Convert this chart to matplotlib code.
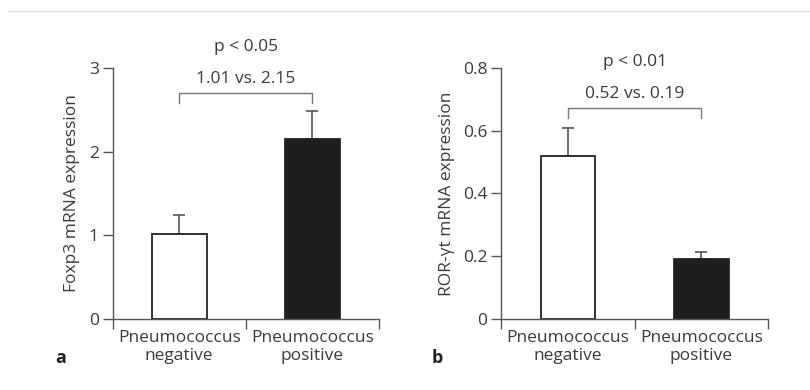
import matplotlib.pyplot as plt
import matplotlib.lines as mlines

plt.rcParams['font.family'] = ['Open Sans', 'DejaVu Sans']

categories = ["Pneumococcus\nnegative", "Pneumococcus\npositive"]
foxp3_mean = [1.01, 2.15]
foxp3_err = [0.23, 0.34]
ror_mean = [0.52, 0.19]
ror_err = [0.09, 0.025]
bar_colors = ["white", "#1e1e1e"]

text_col = "#3a3a3a"
line_col = "#555555"


def draw_panel(ax, means, errs, ymax, yticks, yticklabels, ylabel,
               bracket_y, leg_y, comp_y, p_y, comp_txt, p_txt, letter, letter_x):
    pos = [0.5, 1.5]
    ax.bar(pos, means, width=0.41, color=bar_colors, edgecolor="#222222",
           linewidth=1.3, zorder=2)
    ax.errorbar(pos, means, yerr=[[0, 0], errs], fmt="none", ecolor=line_col,
                elinewidth=1.2, capsize=4, capthick=1.2, zorder=1)
    ax.set_xlim(0, 2)
    ax.set_ylim(0, ymax)
    ax.set_xticks([0, 1, 2])
    ax.set_xticklabels([])
    ax.set_xticks(pos, minor=True)
    ax.set_xticklabels(categories, minor=True, fontsize=12.5, color=text_col,
                       linespacing=1.15)
    ax.tick_params(axis="x", which="minor", length=0, pad=8)
    ax.tick_params(axis="x", which="major", length=7, width=1, color=line_col)
    ax.set_yticks(yticks)
    ax.set_yticklabels(yticklabels, fontsize=12.5, color=text_col)
    ax.tick_params(axis="y", length=7, width=1, color=line_col, pad=3)
    ax.set_ylabel(ylabel, fontsize=12.5, color=text_col, labelpad=6)
    for s in ["top", "right"]:
        ax.spines[s].set_visible(False)
    for s in ["left", "bottom"]:
        ax.spines[s].set_color(line_col)
        ax.spines[s].set_linewidth(1)

    # significance bracket
    ax.plot([pos[0], pos[0], pos[1], pos[1]], [leg_y, bracket_y, bracket_y, leg_y],
            color="#777777", linewidth=1, clip_on=False)
    ax.text(1, comp_y, comp_txt, ha="center", va="center", fontsize=12.5,
            color=text_col, clip_on=False)
    ax.text(1, p_y, p_txt, ha="center", va="center", fontsize=12.5,
            color=text_col, clip_on=False)
    ax.text(letter_x, -0.157 * ymax, letter, fontsize=13,
            fontweight="bold", color="#222222", ha="left", va="center",
            clip_on=False)


fig = plt.figure(figsize=(8.1, 3.9), dpi=100)

ax1 = fig.add_axes([0.139, 0.182, 0.329, 0.644])
draw_panel(ax1, foxp3_mean, foxp3_err, 3, [0, 1, 2, 3], ["0", "1", "2", "3"],
           "Foxp3 mRNA expression", 2.70, 2.58, 2.87, 3.25,
           "1.01 vs. 2.15", "p < 0.05", "a", -0.43)

ax2 = fig.add_axes([0.619, 0.182, 0.329, 0.644])
draw_panel(ax2, ror_mean, ror_err, 0.8, [0, 0.2, 0.4, 0.6, 0.8],
           ["0", "0.2", "0.4", "0.6", "0.8"],
           "ROR-γt mRNA expression", 0.673, 0.64, 0.718, 0.818,
           "0.52 vs. 0.19", "p < 0.01", "b", -0.52)

# thin rule along the top of the page
fig.add_artist(mlines.Line2D([0.01, 1.0], [0.972, 0.972], color="#dddddd",
                             linewidth=1, transform=fig.transFigure))

fig.savefig("out.png", dpi=100, facecolor="white")
